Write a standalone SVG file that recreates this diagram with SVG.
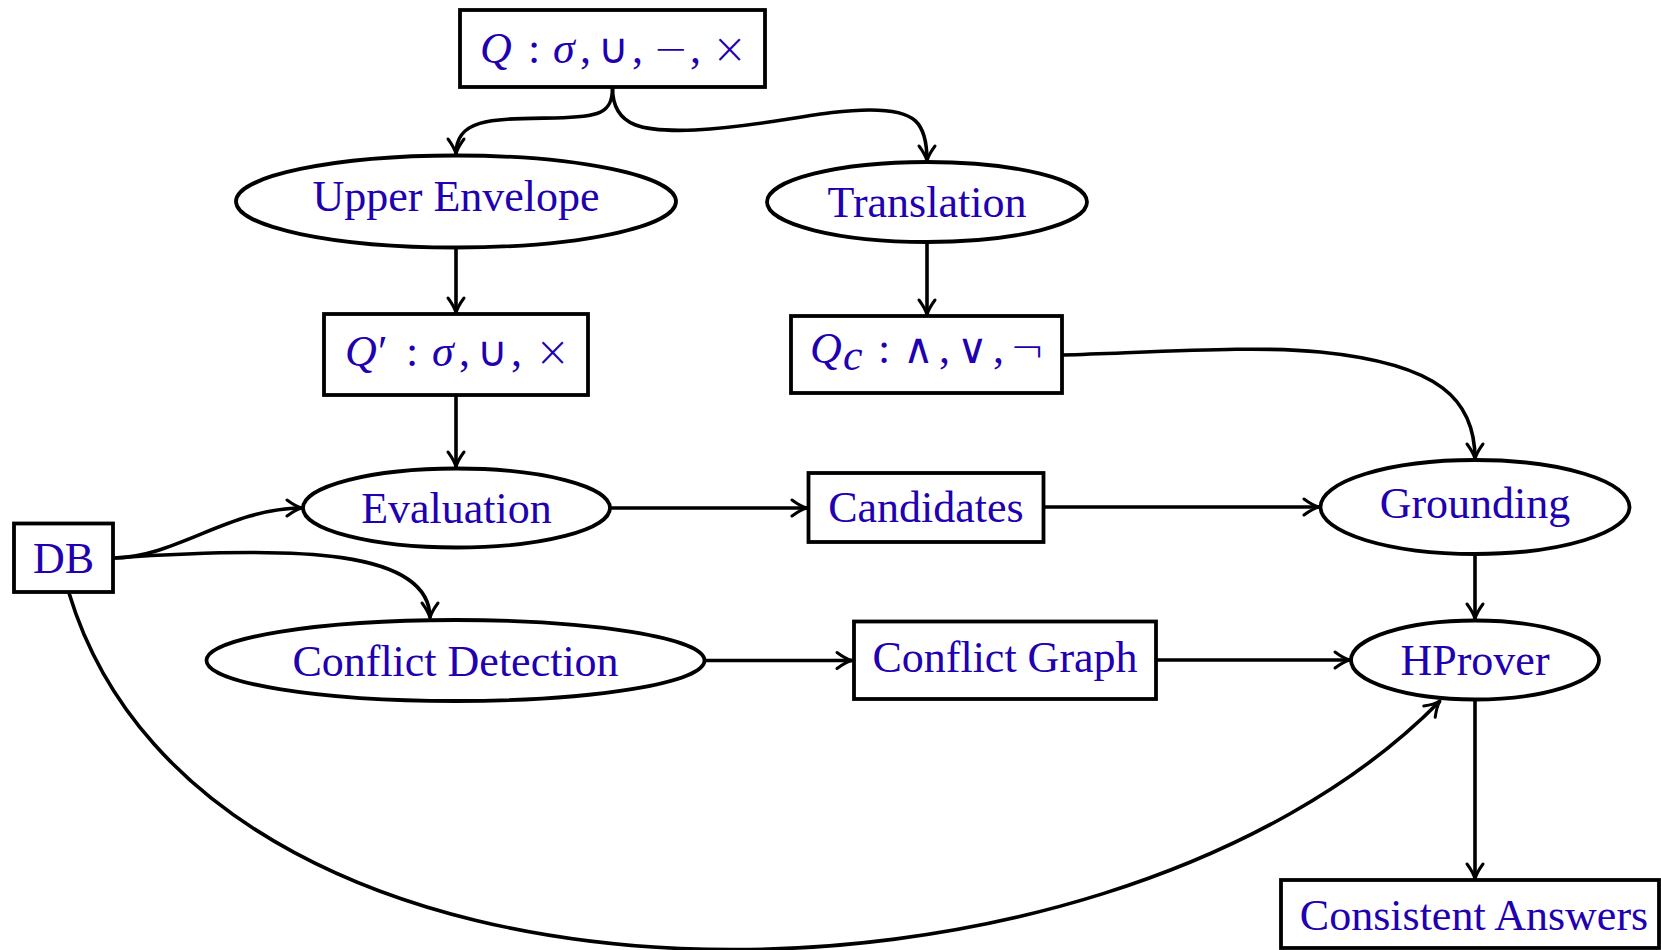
<svg xmlns="http://www.w3.org/2000/svg" width="1661" height="950" viewBox="0 0 1661 950">
<style>
.box{fill:#fff;stroke:#000;stroke-width:3.8}
.t{font-family:"Liberation Serif","DejaVu Serif",serif;font-size:44px;fill:#2000b0;text-anchor:middle}
.m{font-family:"Liberation Serif","DejaVu Serif",serif;font-size:44px;fill:#2000b0}
.i{font-style:italic}
.s{font-family:"DejaVu Sans","Liberation Serif",sans-serif;font-size:42px;font-weight:200}
.e{fill:none;stroke:#000;stroke-width:3.6;marker-end:url(#ah)}
</style>
<defs>
<marker id="ah" viewBox="-18 -11 22 22" refX="0" refY="0" markerWidth="22" markerHeight="22" markerUnits="userSpaceOnUse" orient="auto">
<path d="M-15,-8 C-9,-3.5 -3.5,-0.9 0,0 C-3.5,0.9 -9,3.5 -15,8" fill="none" stroke="#000" stroke-width="3" stroke-linecap="round" stroke-linejoin="round"/>
</marker>
</defs>
<rect width="1661" height="950" fill="#fff"/>
<g id="connectors">
<path class="e" d="M612.5,88 C612.5,114 598,117 555,118 C495,119 456,117 456,154"/>
<path class="e" d="M612.5,88 C612.5,128 645,132 695,130 C770,126 820,110 870,110 C915,110 927,122 927,161"/>
<path class="e" d="M456,248 L456,313"/>
<path class="e" d="M927,242 L927,315"/>
<path class="e" d="M456,395 L456,467"/>
<path class="e" d="M1063,355 C1180,351 1260,346 1320,352 C1440,364 1475,400 1475,459"/>
<path class="e" d="M610,508 L807,508"/>
<path class="e" d="M1044,507 L1319,507"/>
<path class="e" d="M1475,554 L1475,619"/>
<path class="e" d="M113,558 C175,558 230,508 302,508"/>
<path class="e" d="M113,558 C300,545 430,550 430,618"/>
<path class="e" d="M705,660.5 L852,660.5"/>
<path class="e" d="M1157,660 L1350,660"/>
<path class="e" d="M1475,700 L1475,879"/>
<path class="e" d="M69,593 C208,1054 1103,1044 1440,701"/>
</g>
<g id="nQ">
<rect class="box" x="460" y="10" width="305" height="77"/>
<text class="m" y="63"><tspan x="480" class="i">Q</tspan><tspan x="528">:</tspan><tspan x="553" class="i">σ</tspan><tspan x="580">,</tspan><tspan x="598" class="s">∪</tspan><tspan x="632">,</tspan><tspan x="653" class="s">−</tspan><tspan x="690">,</tspan><tspan x="712" class="s">×</tspan></text>
</g>
<g id="nUE">
<ellipse class="box" cx="456" cy="201.5" rx="220" ry="46"/>
<text class="t" x="456" y="211">Upper Envelope</text>
</g>
<g id="nTr">
<ellipse class="box" cx="927" cy="202" rx="160" ry="40"/>
<text class="t" x="927" y="217">Translation</text>
</g>
<g id="nQp">
<rect class="box" x="324" y="314" width="264" height="81"/>
<text class="m" y="366"><tspan x="345" class="i">Q</tspan><tspan x="378">′</tspan><tspan x="406">:</tspan><tspan x="432" class="i">σ</tspan><tspan x="459">,</tspan><tspan x="477" class="s">∪</tspan><tspan x="511">,</tspan><tspan x="535" class="s">×</tspan></text>
</g>
<g id="nQc">
<rect class="box" x="791" y="316" width="271" height="77"/>
<text class="m" y="363"><tspan x="810" class="i">Q</tspan><tspan x="843" y="370" class="i">c</tspan><tspan x="878" y="363">:</tspan><tspan x="903" class="s">∧</tspan><tspan x="939">,</tspan><tspan x="957" class="s">∨</tspan><tspan x="993">,</tspan><tspan x="1010" class="s">¬</tspan></text>
</g>
<g id="nEv">
<ellipse class="box" cx="456.5" cy="508" rx="153.5" ry="39.5"/>
<text class="t" x="456.5" y="523">Evaluation</text>
</g>
<g id="nCa">
<rect class="box" x="808.5" y="473" width="235" height="69"/>
<text class="t" x="926" y="522">Candidates</text>
</g>
<g id="nGr">
<ellipse class="box" cx="1475" cy="507" rx="154.5" ry="47"/>
<text class="t" x="1475" y="518">Grounding</text>
</g>
<g id="nDB">
<rect class="box" x="14" y="523.5" width="99" height="68.5"/>
<text class="t" x="63.5" y="573">DB</text>
</g>
<g id="nCD">
<ellipse class="box" cx="455.5" cy="660.5" rx="249" ry="40.5"/>
<text class="t" x="455.5" y="676">Conflict Detection</text>
</g>
<g id="nCG">
<rect class="box" x="854" y="621.5" width="302" height="77.5"/>
<text class="t" x="1005" y="672">Conflict Graph</text>
</g>
<g id="nHP">
<ellipse class="box" cx="1475" cy="660" rx="124" ry="39.5"/>
<text class="t" x="1475" y="675">HProver</text>
</g>
<g id="nCA">
<rect class="box" x="1281" y="880" width="378" height="68"/>
<text class="t" x="1474" y="930">Consistent Answers</text>
</g>
</svg>
